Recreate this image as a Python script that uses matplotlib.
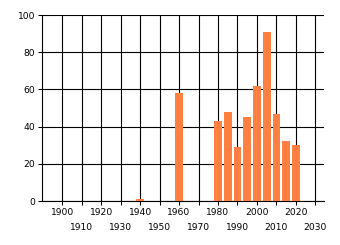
import matplotlib
matplotlib.use("Agg")
import matplotlib.pyplot as plt
from matplotlib.ticker import FixedLocator, FixedFormatter

years = [1940, 1960, 1980, 1985, 1990, 1995, 2000, 2005, 2010, 2015, 2020]
values = [1, 58, 43, 48, 29, 45, 62, 91, 47, 32, 30]
major_ticks = [1900, 1920, 1940, 1960, 1980, 2000, 2020]
minor_ticks = [1910, 1930, 1950, 1970, 1990, 2010, 2030]
y_ticks = [0, 20, 40, 60, 80, 100]

plt.rcParams['font.family'] = ['DejaVu Sans']
fig = plt.figure(figsize=(3.4, 2.45), dpi=100)
ax = fig.add_axes([42/340, 44/245, (324.3-42)/340, (201-15)/245])

ax.bar(years, values, width=4.0, color='#FF8040', zorder=3)

ax.set_xlim(1889.6, 2034.6)
ax.set_ylim(0, 100)
ax.set_axisbelow(True)

ax.xaxis.set_major_locator(FixedLocator(major_ticks))
ax.xaxis.set_minor_locator(FixedLocator(minor_ticks))
ax.xaxis.set_major_formatter(FixedFormatter([str(t) for t in major_ticks]))
ax.xaxis.set_minor_formatter(FixedFormatter([str(t) for t in minor_ticks]))
ax.set_yticks(y_ticks)

ax.tick_params(axis='x', which='major', length=3, width=0.75, pad=2, labelsize=6.6, colors='black')
ax.tick_params(axis='x', which='minor', length=3, width=0.75, pad=13, labelsize=6.6, colors='black')
ax.tick_params(axis='y', length=3, width=0.75, pad=2, labelsize=6.6, colors='black')

ax.grid(True, which='both', axis='x', color='black', linewidth=0.8)
ax.grid(True, which='major', axis='y', color='black', linewidth=0.8)

for s in ['top', 'right']:
    ax.spines[s].set_visible(False)
for s in ['left', 'bottom']:
    ax.spines[s].set_linewidth(0.8)
    ax.spines[s].set_color('black')

fig.savefig('out.png', dpi=100)
